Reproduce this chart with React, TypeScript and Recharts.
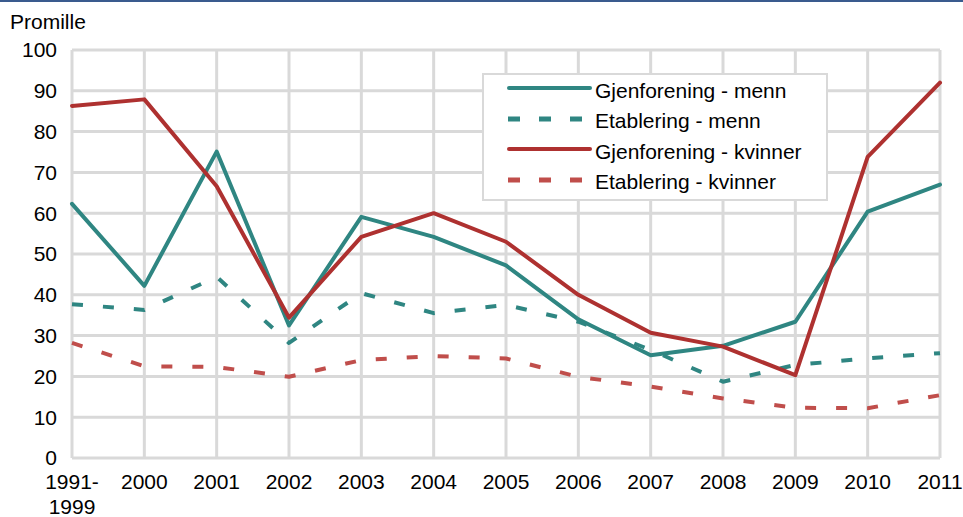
import React from "react";
import {
  LineChart, Line, XAxis, YAxis, CartesianGrid, Legend,
} from "recharts";

const years = ["1991-1999", "2000", "2001", "2002", "2003", "2004", "2005", "2006", "2007", "2008", "2009", "2010", "2011"];
const gjenforeningMenn = [62.3, 42.2, 75.1, 32.5, 59.1, 54.2, 47.2, 34.0, 25.2, 27.5, 33.4, 60.4, 67.0];
const etableringMenn = [37.7, 36.3, 44.4, 28.2, 40.4, 35.5, 37.5, 33.4, 26.5, 18.7, 22.8, 24.4, 25.7];
const gjenforeningKvinner = [86.3, 87.9, 66.6, 34.4, 54.2, 60.0, 53.0, 40.0, 30.7, 27.3, 20.3, 73.8, 92.0];
const etableringKvinner = [28.2, 22.5, 22.3, 19.9, 24.0, 25.0, 24.4, 19.9, 17.5, 14.6, 12.3, 12.2, 15.4];
const yTicks = [0, 10, 20, 30, 40, 50, 60, 70, 80, 90, 100];

const FONT = "'Liberation Sans', Arial, sans-serif";
const TEAL = "#2f8682";
const RED = "#ae3130";
const RED_LIGHT = "#c04e4b";

const series = [
  { key: "gm", name: "Gjenforening - menn", color: TEAL, dash: undefined as string | undefined },
  { key: "em", name: "Etablering - menn", color: TEAL, dash: "11 20" },
  { key: "gk", name: "Gjenforening - kvinner", color: RED, dash: undefined as string | undefined },
  { key: "ek", name: "Etablering - kvinner", color: RED_LIGHT, dash: "11 20" },
];

const data = years.map((year, i) => ({
  year,
  gm: gjenforeningMenn[i],
  em: etableringMenn[i],
  gk: gjenforeningKvinner[i],
  ek: etableringKvinner[i],
}));

const XTick = ({ x, y, payload }: any) => {
  const label = String(payload.value);
  const lines = label.includes("-") ? [label.split("-")[0] + "-", label.split("-")[1]] : [label];
  return (
    <text x={x} y={y} textAnchor="middle" fontSize={21} fill="#000" fontFamily={FONT}>
      {lines.map((l, i) => (
        <tspan key={i} x={x} dy={i === 0 ? "0.71em" : 25}>{l}</tspan>
      ))}
    </text>
  );
};

const LegendBox = () => (
  <div style={{
    background: "#fff", border: "2px solid #d9d9d9", width: 346, height: 128,
    boxSizing: "border-box", fontFamily: FONT, fontSize: 21, color: "#000",
  }}>
    {series.map((s) => (
      <div key={s.key} style={{ display: "flex", alignItems: "center", height: 30.5 }}>
        <svg width={111} height={12} style={{ flexShrink: 0 }}>
          {s.dash ? (
            <line x1={24} x2={98} y1={4} y2={4} stroke={s.color} strokeWidth={5} strokeDasharray="12 19" />
          ) : (
            <line x1={25} x2={106} y1={4} y2={4} stroke={s.color} strokeWidth={4} strokeLinecap="round" />
          )}
        </svg>
        <span style={{ lineHeight: "21px", whiteSpace: "nowrap" }}>{s.name}</span>
      </div>
    ))}
  </div>
);

export default function App() {
  return (
    <div style={{
      position: "fixed", top: 0, left: 0, width: 963, height: 517,
      background: "#fff", overflow: "hidden",
    }}>
      <div style={{ position: "absolute", top: 0, left: 0, width: 963, height: 2, background: "#3a5b8e" }} />
      <div style={{
        position: "absolute", top: 11, left: 10, fontFamily: FONT, fontSize: 21,
        lineHeight: "21px", color: "#000", zIndex: 2,
      }}>
        Promille
      </div>
      <LineChart width={963} height={517} data={data} margin={{ top: 50, right: 23, bottom: 0, left: 0 }}>
        <CartesianGrid stroke="#d9d9d9" strokeWidth={3} />
        <XAxis
          dataKey="year"
          interval={0}
          axisLine={false}
          tickLine={false}
          tickMargin={10}
          height={59}
          tick={<XTick />}
          padding={{ left: 0, right: 0 }}
        />
        <YAxis
          domain={[0, 100]}
          ticks={yTicks}
          interval={0}
          axisLine={false}
          tickLine={false}
          tickMargin={9}
          width={72}
          tick={{ fontSize: 21, fill: "#000", fontFamily: FONT }}
        />
        <Legend
          layout="vertical"
          align="center"
          verticalAlign="middle"
          content={() => <LegendBox />}
          wrapperStyle={{ left: 482, top: 73, width: 346, height: 128 }}
        />
        {series.map((s) => (
          <Line
            key={s.key}
            type="linear"
            dataKey={s.key}
            name={s.name}
            stroke={s.color}
            strokeWidth={4}
            strokeDasharray={s.dash}
            strokeLinecap={s.dash ? "butt" : "round"}
            strokeLinejoin="round"
            dot={false}
            activeDot={false}
            isAnimationActive={false}
          />
        ))}
      </LineChart>
    </div>
  );
}
